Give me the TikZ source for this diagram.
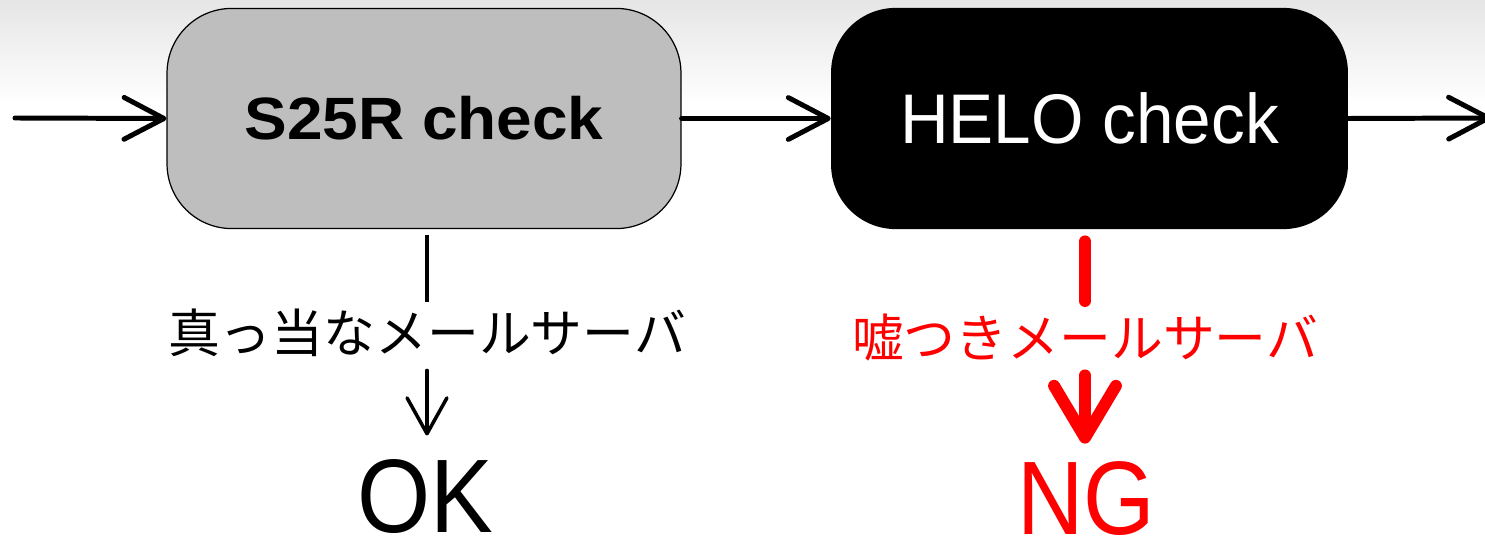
\documentclass[tikz,border=0pt]{standalone}
\usepackage{fontspec}
\setmainfont{Liberation Sans}
\newfontfamily\jp{Noto Sans CJK JP}
\usetikzlibrary{arrows.meta}
\definecolor{boxgray}{HTML}{BEBEBE}
\definecolor{ngred}{HTML}{FF0000}
\tikzset{
  pxgrid/.style={x=0.02cm,y=-0.02cm},
  chk/.style={rectangle, rounded corners=36.8pt, inner sep=0pt},
  flow/.style={line width=2.83pt, line cap=round,
    -{Straight Barb[round,length=22.7pt,width=23.8pt]}},
  thin down/.style={line width=2pt},
  lbl/.style={font=\jp\fontsize{29.5pt}{30pt}\selectfont, inner xsep=0pt, inner ysep=2.83pt,
    text height=26pt, text depth=3.5pt, anchor=base},
  result/.style={font=\fontsize{59.5pt}{60pt}\selectfont, inner sep=0pt,
    text height=42.8pt, text depth=0pt, anchor=base},
}
\begin{document}
\begin{tikzpicture}[pxgrid]
\useasboundingbox (0,0) rectangle (1485,540);
\fill[white] (0,0) rectangle (1485,540);
\shade[top color=black!10, bottom color=white] (0,0) rectangle (1485,105);

\node[chk, draw=black, line width=0.7pt, fill=boxgray,
  minimum width=292.5pt, minimum height=125.3pt] (s25r) at (424,118.5)
  {\fontsize{34pt}{36pt}\selectfont\bfseries\scalebox{1.07}[1]{S25R check}};
\node[chk, fill=black, text=white,
  minimum width=294.2pt, minimum height=125.9pt] (helo) at (1089.5,118.5)
  {\fontsize{40pt}{42pt}\selectfont\scalebox{0.96}[1]{HELO check}};

\coordinate (in) at (15,118);
\coordinate (out) at (1491,118);
\draw[flow] (in) -- (s25r.west);
\draw[flow] (s25r.east) -- (helo.west);
\draw[flow] (helo.east) -- (out);

% S25R branch
\node[lbl] (okl) at (427,353) {真っ当なメールサーバ};
\node[result] (ok) at (425,533) {\scalebox{0.9}[1]{OK}};
\draw[thin down, shorten <=3.4pt] (s25r.south -| okl.north) -- (okl.north);
\draw[thin down, line cap=round, shorten <=3.4pt, shorten >=12.5pt,
  -{Straight Barb[round,length=20.4pt,width=22.7pt]}] (okl.south) -- (ok.north -| okl.south);

% HELO branch
\node[lbl, text=ngred] (ngl) at (1085,358) {嘘つきメールサーバ};
\node[result, text=ngred] (ng) at (1086,535) {\scalebox{0.88}[1]{NG}};
\draw[ngred, line width=6.8pt, line cap=round, shorten <=6.8pt, shorten >=3.4pt]
  (helo.south -| ngl.north) -- (ngl.north);
\draw[ngred, line width=6.8pt, line cap=round, shorten <=3.4pt, shorten >=9pt,
  -{Straight Barb[round,length=29.5pt,width=35.2pt]}] (ngl.south) -- (ng.north -| ngl.south);
\end{tikzpicture}
\end{document}
